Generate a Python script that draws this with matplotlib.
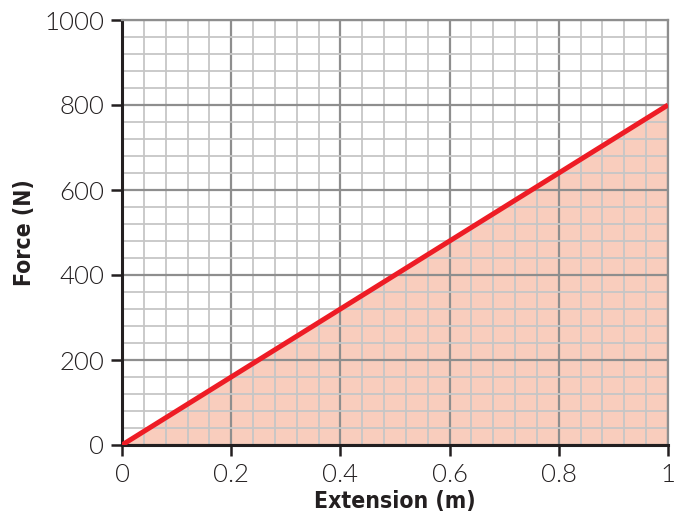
import matplotlib.pyplot as plt
from matplotlib.ticker import MultipleLocator

# data
extension = [0.0, 1.0]
force = [0, 800]
x_ticks = [0, 0.2, 0.4, 0.6, 0.8, 1]
x_labels = ["0", "0.2", "0.4", "0.6", "0.8", "1"]
y_ticks = [0, 200, 400, 600, 800, 1000]

fig = plt.figure(figsize=(6.8, 5.16), dpi=100)
ax = fig.add_axes([122 / 680, 1 - 445 / 516, 546 / 680, 425 / 516])

ax.fill_between(extension, force, 0, color="#f9cdbd", zorder=1, lw=0)
ax.plot(extension, force, color="#ee1c25", lw=3.6, zorder=3, solid_capstyle="butt")

ax.set_xlim(0, 1)
ax.set_ylim(0, 1000)
ax.set_xticks(x_ticks)
ax.set_xticklabels(x_labels)
ax.set_yticks(y_ticks)
ax.xaxis.set_minor_locator(MultipleLocator(0.04))
ax.yaxis.set_minor_locator(MultipleLocator(40))

ax.grid(which="minor", color="#c6c6c6", lw=1.3, zorder=1.5)
ax.grid(which="major", color="#8e8e8e", lw=1.6, zorder=1.6)
ax.tick_params(which="minor", length=0)
ax.tick_params(which="major", length=8, width=1.8, color="#231f20", direction="out", pad=5)

for lbl in ax.get_xticklabels() + ax.get_yticklabels():
    lbl.set_family(["Lato", "DejaVu Sans"])
    lbl.set_fontweight(300)
    lbl.set_fontsize(18.5)
    lbl.set_color("#231f20")

ax.spines["left"].set_linewidth(2.2)
ax.spines["bottom"].set_linewidth(2.2)
ax.spines["left"].set_color("#231f20")
ax.spines["bottom"].set_color("#231f20")
ax.spines["top"].set_color("#8e8e8e")
ax.spines["right"].set_color("#8e8e8e")
ax.spines["top"].set_linewidth(1.6)
ax.spines["right"].set_linewidth(1.6)

lab_font = dict(family="DejaVu Sans", fontstretch="condensed", fontweight="bold",
                fontsize=16.5, color="#231f20")
ax.set_xlabel("Extension (m)", labelpad=2, **lab_font)
ax.set_ylabel("Force (N)", labelpad=6, **lab_font)

fig.savefig("out.png", dpi=100)
